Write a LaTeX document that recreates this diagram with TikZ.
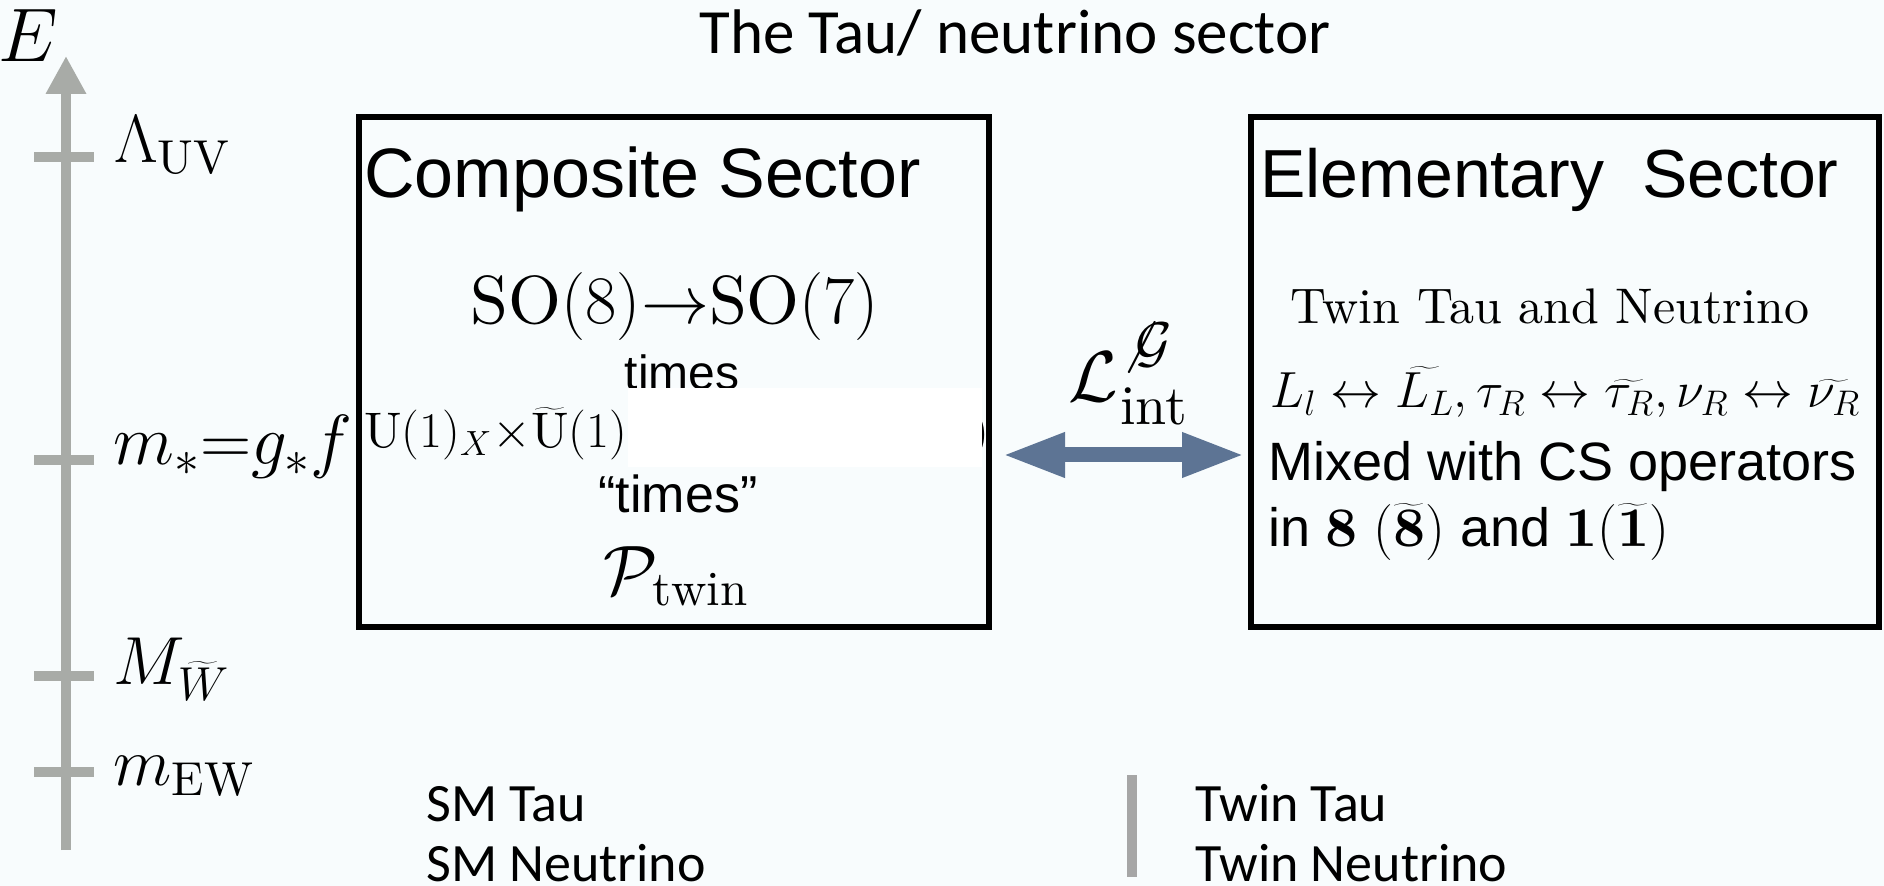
\RequirePackage{fix-cm}
\documentclass[tikz,border=0pt]{standalone}
\usepackage{fontspec}
\setmainfont{lmroman10-regular.otf}[BoldFont=lmroman10-bold.otf, ItalicFont=lmroman10-italic.otf]
\setsansfont{Liberation Sans}
\newfontfamily\slidefont{Carlito}
\usepackage{tikz}
\usetikzlibrary{arrows.meta,positioning,calc}
\definecolor{SlideBg}{HTML}{F8FCFD}
\definecolor{AxisGrey}{HTML}{A8ABA7}
\definecolor{LinkSlate}{HTML}{5D7494}
\definecolor{BarGrey}{HTML}{A6A6A6}
\newcommand{\fsz}[1]{\fontsize{#1}{#1}\selectfont}

\begin{document}
\begin{tikzpicture}[
  x=0.5pt, y=-0.5pt,
  sector/.style={draw, line width=3pt, minimum width=315pt, minimum height=255pt, inner sep=0pt},
  link/.style={{Triangle[length=31.5pt,width=20.5pt]}-{Triangle[length=31.5pt,width=20.5pt]}, line width=7.5pt, color=LinkSlate},
  axis/.style={-{Triangle[length=19pt,width=19pt]}, line width=5pt, color=AxisGrey},
  tick/.style={line width=5pt, color=AxisGrey},
  txt/.style={inner sep=0pt, anchor=base west},
  ctxt/.style={inner sep=0pt, anchor=base},
  axlabel/.style={txt, font=\fsz{34}}
]
  \useasboundingbox[fill=SlideBg] (0,0) rectangle (1884,886);

  % title
  \node[ctxt, font=\slidefont\fsz{31.5}] (title) at (1015,54) {The Tau/ neutrino sector};

  % energy axis
  \node[txt, font=\fsz{38}] (elabel) at (-2,62) {$E$};
  \coordinate (axbot) at (66,850);
  \coordinate (axtop) at (66,56);
  \draw[axis] (axbot) -- (axtop);
  \foreach \y in {157,460,676,772}
    \draw[tick] (34,\y) -- (94,\y);
  \node[axlabel] (luv) at (114,163) {$\Lambda_{\mathrm{UV}}$};
  \node[axlabel, font=\fsz{35.5}] (lstar) at (113,465) {$m_*{=}g_*f$};
  \node[axlabel] (lmw) at (113,685) {$M_{\widetilde{W}}$};
  \node[axlabel] (lew) at (113,785) {$m_{\mathrm{EW}}$};

  % the two sectors
  \node[sector] (comp) at (674,372) {};
  \node[sector, minimum width=314pt] (elem) at (1565,372) {};

  \node[txt, font=\sffamily\fsz{35}] (comptitle) at (364,198) {Composite Sector};
  \node[ctxt, font=\fsz{34}] (sobreak) at (675,324) {$\mathrm{SO}(8){\to}\mathrm{SO}(7)$};
  \node[ctxt, font=\sffamily\fsz{24}] (times) at (682,390) {times};
  \node[txt, font=\fsz{25}] (uone) at (364,448) {$\mathrm{U}(1)_X{\times}\widetilde{\mathrm{U}}(1)$};
  \node[txt, font=\fsz{25}] (ucut) at (971,448) {$)$};
  \fill[white] (628,388) rectangle (982,467);
  \node[ctxt, font=\sffamily\fsz{26}] (qtimes) at (678,513) {“times”};
  \node[ctxt, font=\fsz{35}] (ptwin) at (676,595) {$\mathcal{P}_{\mathrm{twin}}$};

  \node[txt, font=\sffamily\fsz{34}] (elemtitle) at (1260,198) {Elementary\ \ Sector};
  \node[ctxt, font=\fsz{25}] (twinfields) at (1550,324) {Twin Tau and Neutrino};
  \node[txt, font=\fsz{25.4}] (mapping) at (1270,408)
    {$L_l\leftrightarrow\widetilde{L_L},\tau_R\leftrightarrow\widetilde{\tau_R},\nu_R\leftrightarrow\widetilde{\nu_R}$};
  \node[txt, font=\sffamily\fsz{27}] (mixed) at (1268,481) {Mixed with CS operators};
  \node[txt, font=\sffamily\fsz{27}] (reps) at (1268,547)
    {in {\fsz{28}$\mathbf{8}$ $(\widetilde{\mathbf{8}})$} and {\fsz{28}$\mathbf{1}(\widetilde{\mathbf{1}})$}};

  % interaction
  \coordinate (linky) at (0,455);
  \draw[link, shorten <=5pt, shorten >=1.5pt] (comp.east |- linky) -- (elem.west |- linky);
  \node[txt, font=\fsz{36}] (lint) at (1068,402)
    {$\mathcal{L}$\kern1pt\rlap{\raisebox{20pt}{\fsz{28}$\not\mathcal{G}$}}\raisebox{-11.5pt}{\fsz{28}int}};

  % particle content
  \node[txt, font=\slidefont\fsz{27}] (smtau) at (426,821) {SM Tau};
  \node[txt, font=\slidefont\fsz{27}] (smnu) at (426,881) {SM Neutrino};
  \node[txt, font=\slidefont\fsz{27}] (twtau) at (1195,821) {Twin Tau};
  \node[txt, font=\slidefont\fsz{27}] (twnu) at (1195,881) {Twin Neutrino};
  \coordinate (divtop) at (1132,775);
  \coordinate (divbot) at (1132,877);
  \draw[line width=5pt, BarGrey] (divtop) -- (divbot);
\end{tikzpicture}
\end{document}
